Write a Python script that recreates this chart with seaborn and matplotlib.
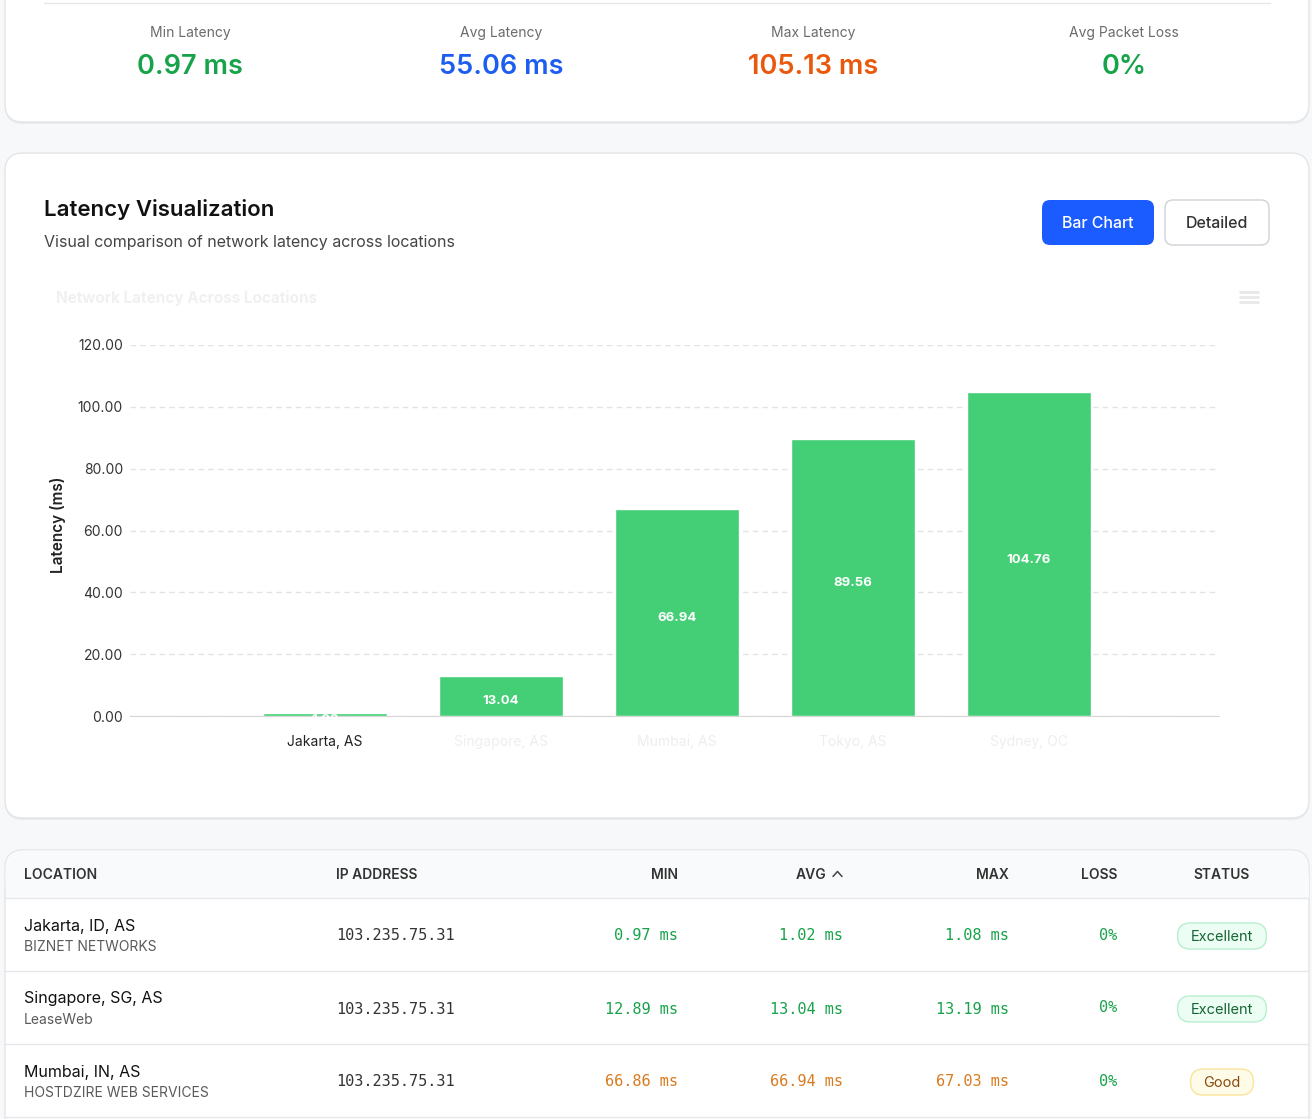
import numpy as np
import pandas as pd
import matplotlib.pyplot as plt
import seaborn as sns
from matplotlib.patches import FancyBboxPatch, Rectangle

# ---- data ----
locations = ["Jakarta, AS", "Singapore, AS", "Mumbai, AS", "Tokyo, AS", "Sydney, OC"]
avg_latency = [1.02, 13.04, 66.94, 89.56, 104.76]

stat_labels = ["Min Latency", "Avg Latency", "Max Latency", "Avg Packet Loss"]
stat_values = ["0.97 ms", "55.06 ms", "105.13 ms", "0%"]
stat_colors = ["#17a34a", "#1d5ef0", "#ea580c", "#17a34a"]

table_headers = ["LOCATION", "IP ADDRESS", "MIN", "AVG", "MAX", "LOSS", "STATUS"]
row_places = ["Jakarta, ID, AS", "Singapore, SG, AS", "Mumbai, IN, AS"]
row_providers = ["BIZNET NETWORKS", "LeaseWeb", "HOSTDZIRE WEB SERVICES"]
row_ips = ["103.235.75.31", "103.235.75.31", "103.235.75.31"]
row_min = [0.97, 12.89, 66.86]
row_avg = [1.02, 13.04, 66.94]
row_max = [1.08, 13.19, 67.03]
row_loss = ["0%", "0%", "0%"]
row_status = ["Excellent", "Excellent", "Good"]

sns.set_style("white")
plt.rcParams['font.family'] = ['Inter', 'DejaVu Sans']
MONO = ['DejaVu Sans Mono']

W, H = 1312, 1119
fig = plt.figure(figsize=(W / 100, H / 100), dpi=100)
fig.patch.set_facecolor("#f7f8fa")

# full-figure axis in pixel units for the dashboard chrome
bg = fig.add_axes([0, 0, 1, 1])
bg.set_xlim(0, W)
bg.set_ylim(H, 0)
bg.axis("off")
bg.set_facecolor("none")


def card(x0, y0, x1, y1, r=18):
    bg.add_patch(FancyBboxPatch((x0, y0 + 2), x1 - x0, y1 - y0,
                                boxstyle=f"round,pad=0,rounding_size={r}",
                                fc="#e9ebee", ec="none", zorder=1))
    bg.add_patch(FancyBboxPatch((x0, y0), x1 - x0, y1 - y0,
                                boxstyle=f"round,pad=0,rounding_size={r}",
                                fc="white", ec="#e3e5e8", lw=1, zorder=2))


# ---- stats card ----
card(5, -40, 1309, 122)
bg.plot([44, 1270], [3, 3], color="#e6e6e6", lw=1, zorder=3)
for cx, lab, val, col in zip([190, 501, 813, 1124], stat_labels, stat_values, stat_colors):
    bg.text(cx, 33, lab, ha="center", va="center", fontsize=10, color="#6b6b6b", zorder=4)
    bg.text(cx, 67, val, ha="center", va="center", fontsize=19.5, fontweight="semibold",
            color=col, zorder=4)

# ---- chart card ----
card(5, 153, 1309, 818)
bg.text(44, 210, "Latency Visualization", ha="left", va="center", fontsize=16,
        fontweight="semibold", color="#111111", zorder=4)
bg.text(44, 243, "Visual comparison of network latency across locations", ha="left",
        va="center", fontsize=11.5, color="#454545", zorder=4)

bg.add_patch(FancyBboxPatch((1042, 200), 112, 45, boxstyle="round,pad=0,rounding_size=8",
                            fc="#1a5cff", ec="none", zorder=3))
bg.text(1098, 224, "Bar Chart", ha="center", va="center", fontsize=11.5,
        fontweight="medium", color="white", zorder=4)
bg.add_patch(FancyBboxPatch((1165, 200), 104, 45, boxstyle="round,pad=0,rounding_size=8",
                            fc="white", ec="#cfd2d6", lw=1, zorder=3))
bg.text(1217, 224, "Detailed", ha="center", va="center", fontsize=11.5,
        fontweight="medium", color="#333333", zorder=4)

bg.text(56, 298, "Network Latency Across Locations", ha="left", va="center", fontsize=11,
        fontweight="bold", color="#f0f0f0", zorder=4)
for yy in [292, 297, 302]:
    bg.plot([1240, 1258], [yy, yy], color="#e8e8e8", lw=2, zorder=4)

bg.text(58, 525, "Latency (ms)", rotation=90, ha="center", va="center", fontsize=11,
        fontweight="semibold", color="#222222", zorder=4)

# ---- bar chart ----
ax = fig.add_axes([130 / W, 1 - 716 / H, (1219 - 130) / W, (716 - 345) / H])
ax.set_facecolor("none")
df = pd.DataFrame({"location": locations, "latency": avg_latency})
sns.barplot(data=df, x="location", y="latency", color="#44ce75", saturation=1,
            width=0.7, ax=ax, zorder=3)
labs = ax.bar_label(ax.containers[0], labels=[f"{v:.2f}" for v in avg_latency],
                    label_type="center", color="white", fontsize=9.5, fontweight="bold",
                    zorder=4)
for t in labs:
    t.set_position((0, -4))
ax.set_ylim(0, 120)
ax.set_xlim(-1.108, 5.08)
ax.set_yticks(np.arange(0, 121, 20))
ax.set_yticklabels([f"{v:.2f}" for v in np.arange(0, 121, 20)])
ax.set_xlabel("")
ax.set_ylabel("")
ax.yaxis.grid(True, linestyle=(0, (4, 3)), color="#e3e3e3", lw=1)
ax.xaxis.grid(False)
for s in ["top", "right", "left"]:
    ax.spines[s].set_visible(False)
ax.spines["bottom"].set_color("#d6d6d6")
ax.tick_params(axis="y", length=0, pad=5, labelsize=10, labelcolor="#333333")
ax.tick_params(axis="x", length=5, color="#d6d6d6", pad=8.5, labelsize=10)
for i, t in enumerate(ax.get_xticklabels()):
    t.set_color("#222222" if i == 0 else "#eeeeee")

# ---- table card ----
card(5, 850, 1309, 1160)
bg.add_patch(FancyBboxPatch((5.5, 850.5), 1303, 47, boxstyle="round,pad=0,rounding_size=18",
                            fc="#f9fafb", ec="none", zorder=3))
bg.add_patch(Rectangle((5.5, 875), 1303, 23, fc="#f9fafb", ec="none", zorder=3))
for yy in [898, 971, 1044, 1117]:
    bg.plot([5, 1309], [yy, yy], color="#e6e7ea", lw=1, zorder=4)

hx = [24, 336, 678, 826, 1009, 1117, 1222]
ha = ["left", "left", "right", "right", "right", "right", "center"]
for x, h, a in zip(hx, table_headers, ha):
    bg.text(x, 875, h, ha=a, va="center", fontsize=10, fontweight="semibold",
            color="#333333", zorder=5)
bg.plot([833, 837.5, 842], [876.5, 871.5, 876.5], color="#444444", lw=1.1, zorder=5)

for i in range(3):
    yc = 934 + 73 * i
    val_col = "#17a34a" if row_avg[i] < 50 else "#d97a1e"
    bg.text(24, yc - 8, row_places[i], ha="left", va="center", fontsize=11.5,
            color="#111111", zorder=5)
    bg.text(24, yc + 13, row_providers[i], ha="left", va="center", fontsize=10,
            color="#5a5a5a", zorder=5)
    bg.text(336, yc + 2, row_ips[i], ha="left", va="center", fontsize=11, family=MONO,
            color="#333333", zorder=5)
    for x, v in zip([678, 843, 1009], [row_min[i], row_avg[i], row_max[i]]):
        bg.text(x, yc + 2, f"{v:.2f} ms", ha="right", va="center", fontsize=11,
                family=MONO, color=val_col, zorder=5)
    bg.text(1117, yc + 1, row_loss[i], ha="right", va="center", fontsize=11, family=MONO,
            color="#17a34a", zorder=5)
    if row_status[i] == "Excellent":
        fc, ec, tc, bw = "#ecfdf3", "#b9efcf", "#166534", 89
    else:
        fc, ec, tc, bw = "#fefbe8", "#fbe39a", "#8a4b0f", 63
    bg.add_patch(FancyBboxPatch((1222 - bw / 2, yc - 11), bw, 26,
                                boxstyle="round,pad=0,rounding_size=13",
                                fc=fc, ec=ec, lw=1, zorder=5))
    bg.text(1222, yc + 3, row_status[i], ha="center", va="center", fontsize=10.5,
            color=tc, zorder=6)

fig.savefig("out.png", dpi=100, facecolor=fig.get_facecolor())
